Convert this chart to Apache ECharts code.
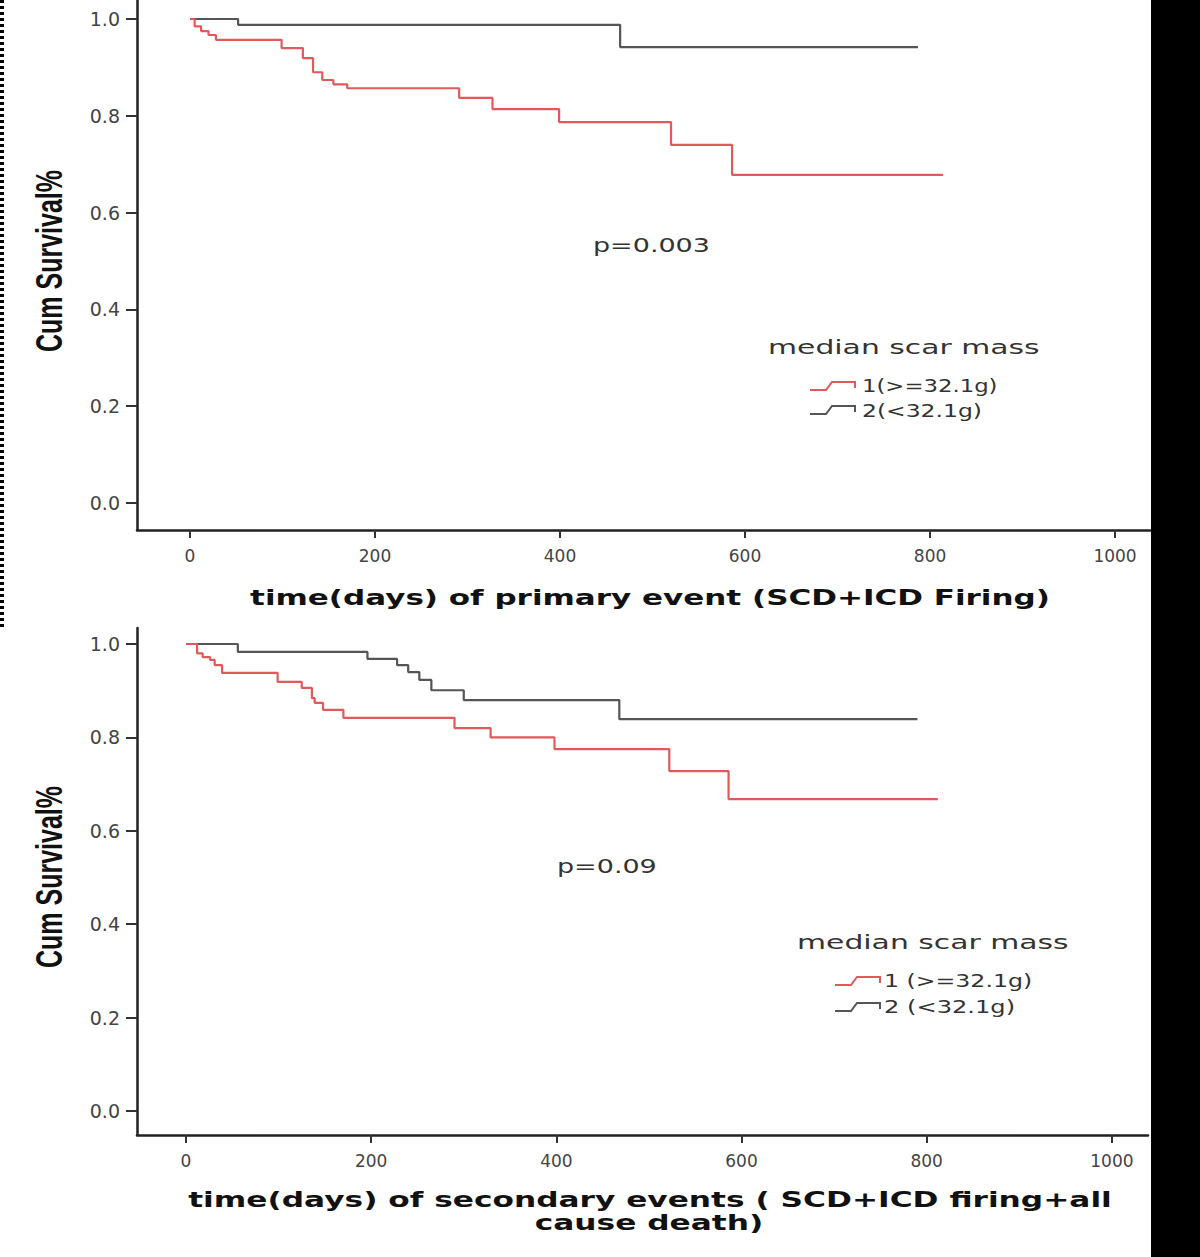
<!DOCTYPE html>
<html>
<head>
<meta charset="utf-8">
<script src="https://cdn.jsdelivr.net/npm/echarts@6/dist/echarts.min.js"></script>
<style>html,body{margin:0;padding:0;background:#fff;}#c{width:1200px;height:1257px;}</style>
</head>
<body>
<div id="c"></div>
<script>
// ---------- data ----------
// Top panel: primary event (SCD + ICD firing)
const topRedDays  = [0, 5, 12, 20, 28, 99, 122, 133, 143, 155, 170, 291, 327, 399, 520, 586, 814];
const topRedSurv  = [1.0, 0.985, 0.975, 0.967, 0.957, 0.94, 0.919, 0.89, 0.874, 0.865, 0.857, 0.837, 0.814, 0.787, 0.74, 0.678, 0.678];
const topGrayDays = [0, 52, 465, 787];
const topGraySurv = [1.0, 0.988, 0.942, 0.942];
// Bottom panel: secondary events (SCD + ICD firing + all cause death)
const botRedDays  = [0, 12, 18, 26, 31, 39, 99, 125, 136, 139, 148, 170, 290, 329, 398, 522, 586, 812];
const botRedSurv  = [1.0, 0.98, 0.972, 0.966, 0.955, 0.938, 0.919, 0.906, 0.884, 0.874, 0.859, 0.842, 0.82, 0.80, 0.775, 0.728, 0.668, 0.668];
const botGrayDays = [0, 56, 196, 228, 240, 252, 265, 300, 468, 790];
const botGraySurv = [1.0, 0.983, 0.968, 0.955, 0.94, 0.923, 0.901, 0.880, 0.839, 0.839];

const yTicks = [0, 0.2, 0.4, 0.6, 0.8, 1.0];
const xTicks = [0, 200, 400, 600, 800, 1000];

const yTitle = 'Cum Survival%';
const topXTitle = 'time(days) of primary event (SCD+ICD Firing)';
const botXTitle1 = 'time(days) of secondary events ( SCD+ICD firing+all';
const botXTitle2 = 'cause death)';
const legendTitle = 'median scar mass';
const topLegend = ['1(>=32.1g)', '2(<32.1g)'];
const botLegend = ['1 (>=32.1g)', '2 (<32.1g)'];
const topP = 'p=0.003';
const botP = 'p=0.09';

// ---------- build ----------
const zip = (a, b) => a.map((v, i) => [v, b[i]]);
const RED = '#e05a5c';
const GRAY = '#555555';
const AXIS = '#222';

function xAxisCfg(gi, min, max) {
  return {
    type: 'value', gridIndex: gi, min: min, max: max,
    axisLine: { show: true, onZero: false, lineStyle: { color: AXIS, width: 2.5 } },
    axisTick: { show: true, customValues: xTicks, length: 8, lineStyle: { color: '#333', width: 2 } },
    axisLabel: { customValues: xTicks, margin: 17, fontSize: 17, fontFamily: 'DejaVu Sans', color: '#444',
                 formatter: v => String(Math.round(v)) },
    splitLine: { show: false }
  };
}
function yAxisCfg(gi, min, max) {
  return {
    type: 'value', gridIndex: gi, min: min, max: max,
    axisLine: { show: true, onZero: false, lineStyle: { color: AXIS, width: 2.5 } },
    axisTick: { show: true, customValues: yTicks, length: 11, lineStyle: { color: '#333', width: 2 } },
    axisLabel: { customValues: yTicks, margin: 17, fontSize: 19, fontFamily: 'DejaVu Sans', color: '#444',
                 formatter: v => v.toFixed(1) },
    splitLine: { show: false }
  };
}
function lineSeries(data, color, xi, z) {
  return { type: 'line', step: 'end', data: data, xAxisIndex: xi, yAxisIndex: xi,
           showSymbol: false, symbol: 'none', lineStyle: { color: color, width: 2.2 }, z: z, silent: true };
}
function txt(x, y, text, font, opts) {
  opts = opts || {};
  return {
    type: 'text', x: x, y: y, scaleX: opts.sx || 1, scaleY: opts.sy || 1, rotation: opts.rot || 0, z: 100,
    style: { text: text, font: font, fill: opts.fill || '#333',
             textAlign: opts.align || 'left', textVerticalAlign: 'middle',
             align: opts.align || 'left', verticalAlign: 'middle' }
  };
}
function icon(x, y, color) {
  return { type: 'polyline', z: 100,
           shape: { points: [[x, y], [x + 16, y], [x + 22, y - 8], [x + 45, y - 8], [x + 45, y - 2]] },
           style: { stroke: color, lineWidth: 2, fill: null } };
}

const LEG = '19px "DejaVu Sans"';
const ITEM = '17px "DejaVu Sans"';
const TITLE = 'bold 22px "DejaVu Sans"';
const YT = 'bold 25px "Liberation Sans"';

const option = {
  animation: false,
  backgroundColor: '#fff',
  grid: [
    { left: 137, top: 0, width: 1013, height: 530 },
    { left: 137, top: 628, width: 1011, height: 507 }
  ],
  xAxis: [ xAxisCfg(0, -57.3, 1037.8), xAxisCfg(1, -52.9, 1039) ],
  yAxis: [ yAxisCfg(0, -0.0558, 1.0393), yAxisCfg(1, -0.0514, 1.0343) ],
  series: [
    lineSeries(zip(topGrayDays, topGraySurv), GRAY, 0, 2),
    lineSeries(zip(topRedDays, topRedSurv), RED, 0, 3),
    lineSeries(zip(botGrayDays, botGraySurv), GRAY, 1, 2),
    lineSeries(zip(botRedDays, botRedSurv), RED, 1, 3)
  ],
  graphic: [
    // frame remnants of the scanned figure
    { type: 'line', z: 100, shape: { x1: 2, y1: 0, x2: 2, y2: 628 }, style: { stroke: '#000', lineWidth: 4, lineDash: [3, 3] } },
    { type: 'rect', z: 100, shape: { x: 1151, y: 0, width: 49, height: 1257 }, style: { fill: '#000' } },
    // y titles
    txt(50, 261, yTitle, YT, { rot: Math.PI / 2, sy: 1.45, align: 'center', fill: '#111' }),
    txt(50, 877, yTitle, YT, { rot: Math.PI / 2, sy: 1.45, align: 'center', fill: '#111' }),
    // x titles
    txt(650, 597, topXTitle, TITLE, { sx: 1.41, align: 'center', fill: '#111' }),
    txt(650, 1199, botXTitle1, TITLE, { sx: 1.42, align: 'center', fill: '#111' }),
    txt(649, 1222, botXTitle2, TITLE, { sx: 1.42, align: 'center', fill: '#111' }),
    // p values
    txt(593, 245, topP, LEG, { sx: 1.42 }),
    txt(557, 866, botP, LEG, { sx: 1.42 }),
    // legends top
    txt(768, 348, legendTitle, LEG, { sx: 1.57 }),
    icon(810, 390, RED), txt(862, 386, topLegend[0], ITEM, { sx: 1.34 }),
    icon(810, 414, GRAY), txt(862, 411, topLegend[1], ITEM, { sx: 1.38 }),
    // legends bottom
    txt(797, 943, legendTitle, LEG, { sx: 1.57 }),
    icon(835, 985, RED), txt(884, 981, botLegend[0], ITEM, { sx: 1.39 }),
    icon(835, 1011, GRAY), txt(884, 1007, botLegend[1], ITEM, { sx: 1.42 })
  ]
};

const chart = echarts.init(document.getElementById('c'), null, { renderer: 'svg', width: 1200, height: 1257 });
chart.setOption(option);
</script>
</body>
</html>
